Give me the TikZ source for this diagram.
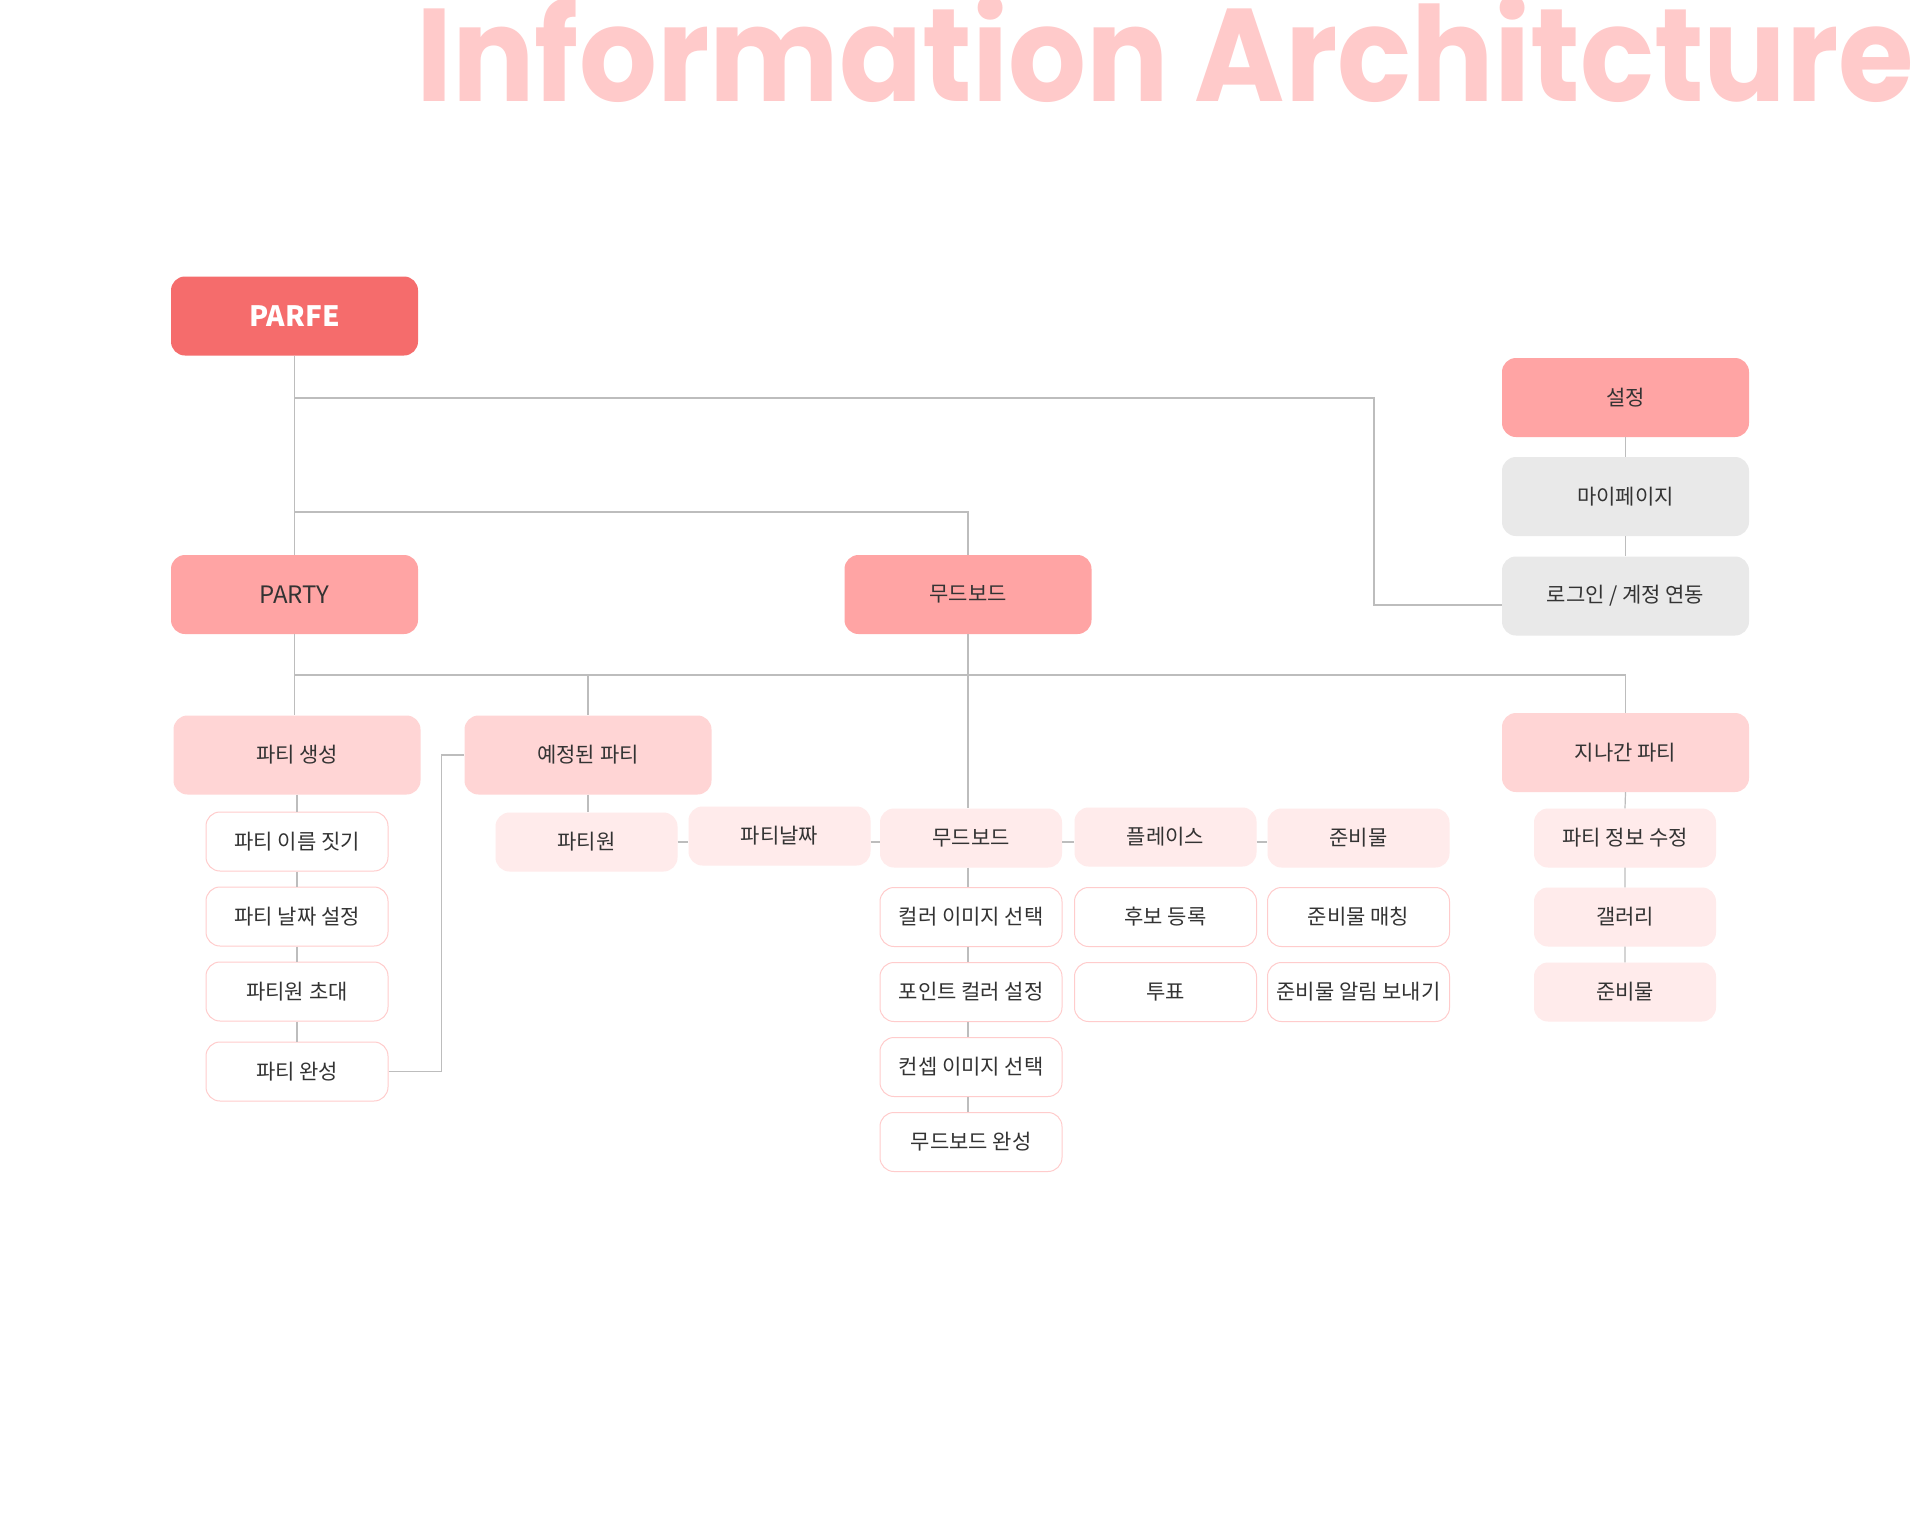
\documentclass[tikz,border=0pt]{standalone}
\usepackage{fontspec}
\setmainfont{Noto Sans CJK KR}
\newfontfamily\titlefont{Poppins}
\usepackage{tikz}
\usepackage{xcolor}
\usetikzlibrary{
    calc,
    positioning
}
\definecolor{parfered}{HTML}{F56C6C}
\definecolor{levelone}{HTML}{FFA4A4}
\definecolor{leveltwo}{HTML}{FFD5D5}
\definecolor{levelthree}{HTML}{FFEBEB}
\definecolor{taskline}{HTML}{FFCCCC}
\definecolor{accountgrey}{HTML}{E9E9E9}
\definecolor{linkgrey}{HTML}{BDBDBD}
\definecolor{labeltext}{HTML}{333333}
\definecolor{titlepink}{HTML}{FFCACA}

\begin{document}
\begin{tikzpicture}[x=1pt, y=-1pt,
    box/.style={rounded corners=14pt, inner sep=0pt, minimum width=247pt, minimum height=79pt,
        text=labeltext, font=\fontsize{21}{25}\selectfont},
    rootbox/.style={box, fill=parfered, text=white, font=\fontsize{28}{32}\selectfont\bfseries},
    topbox/.style={box, fill=levelone},
    accountbox/.style={box, fill=accountgrey},
    midbox/.style={box, fill=leveltwo},
    leafbox/.style={box, minimum width=182pt, minimum height=59pt, fill=levelthree},
    taskbox/.style={leafbox, fill=white, draw=taskline, line width=1pt},
    link/.style={draw=linkgrey, line width=1.2pt}]
                        \fill[white] (0, 0) rectangle (1920, 1515);
                        \useasboundingbox (0, 0) rectangle (1920, 1515);
                        \node[anchor=base west, inner sep=0pt, text=titlepink,
                            font=\titlefont\bfseries\fontsize{132}{132}\selectfont] (title) at (416, 101)
                            {\scalebox{0.928}[1]{Information Architcture}};
                        \node[rootbox] (parfe) at (294.5, 316) {PARFE};
                        \node[topbox] (setting) at (1625.5, 397.5) {설정};
                        \node[accountbox] (mypage) at (1625.5, 496.5) {마이페이지};
                        \node[accountbox] (login) at (1625.5, 596) {로그인 / 계정 연동};
                        \node[topbox, font=\fontsize{24}{28}\selectfont] (party) at (294.5, 594.5) {PARTY};
                        \node[topbox] (moodtop) at (968, 594.5) {무드보드};
                        \node[midbox] (create) at (297, 755) {파티 생성};
                        \node[midbox] (planned) at (588, 755) {예정된 파티};
                        \node[midbox] (past) at (1625.5, 752.5) {지나간 파티};
                        \node[taskbox] (naming) at (297, 841.5) {파티 이름 짓기};
                        \node[taskbox] (dateset) at (297, 916.5) {파티 날짜 설정};
                        \node[taskbox] (invite) at (297, 991.5) {파티원 초대};
                        \node[taskbox] (done) at (297, 1071.5) {파티 완성};
                        \node[leafbox] (member) at (586.5, 842) {파티원};
                        \node[leafbox] (partydate) at (779.5, 836) {파티날짜};
                        \node[leafbox] (mood) at (971, 838) {무드보드};
                        \node[leafbox] (place) at (1165.5, 837) {플레이스};
                        \node[leafbox] (prep) at (1358.5, 838) {준비물};
                        \node[taskbox] (colorimg) at (971, 917) {컬러 이미지 선택};
                        \node[taskbox] (pointcolor) at (971, 992) {포인트 컬러 설정};
                        \node[taskbox] (concept) at (971, 1067) {컨셉 이미지 선택};
                        \node[taskbox] (moodfin) at (971, 1142) {무드보드 완성};
                        \node[taskbox] (candidate) at (1165.5, 917) {후보 등록};
                        \node[taskbox] (vote) at (1165.5, 992) {투표};
                        \node[taskbox] (match) at (1358.5, 917) {준비물 매칭};
                        \node[taskbox] (alarm) at (1358.5, 992) {준비물 알림 보내기};
                        \node[leafbox] (edit) at (1625, 838) {파티 정보 수정};
                        \node[leafbox] (gallery) at (1625, 917) {갤러리};
                        \node[leafbox] (pastprep) at (1625, 992) {준비물};
                        \coordinate (setjoint) at (294.5, 398);
                        \coordinate (setbend) at (1374, 605);
                        \coordinate (moodjoint) at (294.5, 512);
                        \coordinate (partyjoint) at (294.5, 675);
                        \coordinate (rowline) at (0, 842);
                        \draw[link] (parfe.south) -- (party.north);
                        \draw[link] (setjoint) -| (setbend) -- (setbend -| login.west);
                        \draw[link] (moodjoint) -| (moodtop.north);
                        \draw[link] (setting) -- (mypage) -- (login);
                        \draw[link] (party.south) -- (party.south |- create.north);
                        \draw[link] (partyjoint) -| (planned.north);
                        \draw[link] (partyjoint) -| (past.north);
                        \draw[link] (moodtop.south) -- (moodtop.south |- mood.north);
                        \draw[link] (create.south) -- (naming.north)
                        (naming.south) -- (dateset.north)
                        (dateset.south) -- (invite.north)
                        (invite.south) -- (done.north);
                        \draw[link] (done.east) -- ++(53, 0) |- (planned.west);
                        \draw[link] (planned.south) -- (planned.south |- member.north);
                        \draw[link] (member.east |- rowline) -- (partydate.west |- rowline)
                        (partydate.east |- rowline) -- (mood.west |- rowline)
                        (mood.east |- rowline) -- (place.west |- rowline)
                        (place.east |- rowline) -- (prep.west |- rowline);
                        \draw[link] (mood.south -| moodtop) -- (colorimg.north -| moodtop)
                        (colorimg.south -| moodtop) -- (pointcolor.north -| moodtop)
                        (pointcolor.south -| moodtop) -- (concept.north -| moodtop)
                        (concept.south -| moodtop) -- (moodfin.north -| moodtop);
                        \draw[link] (past.south) -- (edit.north)
                        (edit.south) -- (gallery.north)
                        (gallery.south) -- (pastprep.north);
                    \end{tikzpicture}
\end{document}
